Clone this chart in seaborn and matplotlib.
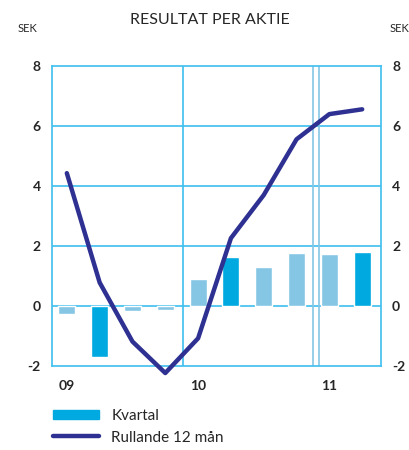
import matplotlib
matplotlib.use('Agg')
import matplotlib.pyplot as plt
from matplotlib.patches import Patch
from matplotlib.lines import Line2D
import numpy as np
import pandas as pd
import seaborn as sns

# quarters 09Q1 .. 11Q2
quarters = ['09Q1', '09Q2', '09Q3', '09Q4', '10Q1', '10Q2', '10Q3', '10Q4', '11Q1', '11Q2']
kvartal = [-0.27, -1.69, -0.18, -0.14, 0.90, 1.64, 1.31, 1.78, 1.73, 1.81]
rullande = [4.43, 0.78, -1.19, -2.24, -1.08, 2.26, 3.70, 5.56, 6.40, 6.56]
year_labels = ['09', '10', '11']
year_pos = [0, 4, 8]

DARK = '#00a9e0'
LIGHT = '#85c6e4'
GRID = '#3dbfef'
NAVY = '#2e3192'

sns.set_style('white')
plt.rcParams['font.family'] = ['Lato', 'DejaVu Sans']

d = pd.DataFrame({'q': quarters, 'pos': np.arange(len(quarters)),
                  'kvartal': kvartal, 'rullande': rullande})
cols = [DARK if q.endswith('Q2') else LIGHT for q in quarters]

fig = plt.figure(figsize=(4.1, 4.5), dpi=100)
ax = fig.add_axes([0.127, 0.187, 0.802, 0.666])

sns.barplot(data=d, x='pos', y='kvartal', hue='pos', palette=cols, legend=False,
            native_scale=True, width=0.52, saturation=1, ax=ax, zorder=3)
sns.lineplot(data=d, x='pos', y='rullande', color=NAVY, lw=3.2, ax=ax, zorder=4)
for ln in ax.lines:
    ln.set_clip_on(False)

ax.set_xlim(-0.45, 9.57)
ax.set_ylim(-2, 8)
ax.set_yticks([-2, 0, 2, 4, 6, 8])
ax.set_yticklabels(['-2', '0', '2', '4', '6', '8'])
ax.set_xticks(year_pos)
ax.set_xticklabels(year_labels)
ax.set_xlabel('')
ax.set_ylabel('')
for y in [0, 2, 4, 6]:
    ax.axhline(y, color=GRID, lw=1.2, zorder=1)
ax.axvline(3.55, color=GRID, lw=1.2, zorder=1)
ax.axvline(7.5, color=LIGHT, lw=1.2, zorder=1)
ax.axvline(7.68, color=LIGHT, lw=1.2, zorder=1)
for s in ax.spines.values():
    s.set_color(GRID)
    s.set_linewidth(1.2)

ax.tick_params(axis='y', length=0, labelsize=10, pad=8, labelright=True)
ax.tick_params(axis='x', length=0, labelsize=10, pad=10)
for t in ax.get_yticklabels() + ax.get_xticklabels():
    t.set_fontweight('bold')

fig.text(0.512, 0.955, 'RESULTAT PER AKTIE', ha='center', va='center', fontsize=11.5)
fig.text(0.068, 0.937, 'SEK', ha='center', va='center', fontsize=8)
fig.text(0.975, 0.937, 'SEK', ha='center', va='center', fontsize=8)

handles = [Patch(color=DARK), Line2D([0], [0], color=NAVY, lw=3.2, solid_capstyle='round')]
fig.legend(handles, ['Kvartal', 'Rullande 12 mån'], loc='upper left',
           bbox_to_anchor=(0.115, 0.105), frameon=False, fontsize=11,
           handlelength=3.0, handleheight=0.6, handletextpad=0.8, labelspacing=0.5,
           borderaxespad=0)

fig.savefig('out.png', dpi=100)
